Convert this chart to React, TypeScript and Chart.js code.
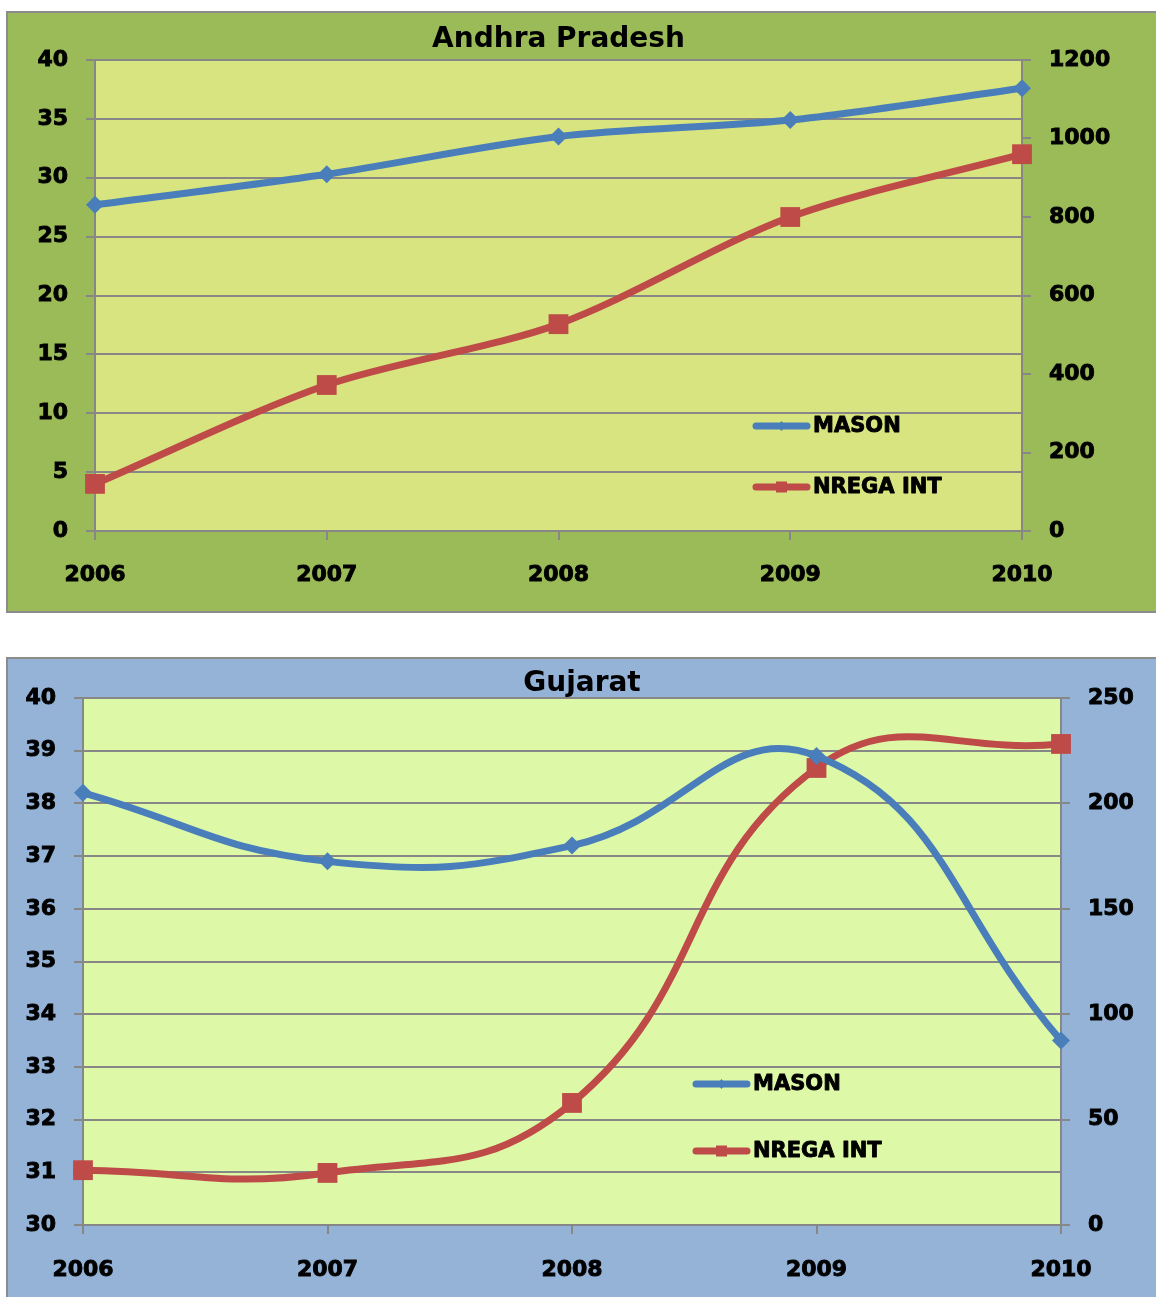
import React, { useEffect, useRef } from 'react';
import { Chart, registerables } from 'chart.js';

Chart.register(...registerables);

// ---------- data ----------
const YEARS = ['2006', '2007', '2008', '2009', '2010'];

const AP_MASON = [27.7, 30.3, 33.5, 34.9, 37.6];
const AP_NREGA = [120, 372, 527, 800, 960];

const GJ_MASON = [38.2, 36.9, 37.2, 38.9, 33.5];
const GJ_NREGA = [26, 24.7, 57.9, 216.8, 228.2];

const SERIES_NAMES = ['MASON', 'NREGA INT'];

// ---------- styles ----------
const FONT = '"DejaVu Sans", "Liberation Sans", sans-serif';
const BLUE = '#4A7EBB';
const RED = '#BE4B48';
const GRID = '#878787';

const plotBg = {
  id: 'plotBg',
  beforeDraw(chart: any, _a: any, opts: any) {
    const { ctx, chartArea } = chart;
    if (!chartArea) return;
    ctx.save();
    ctx.fillStyle = opts.color;
    ctx.fillRect(chartArea.left, chartArea.top, chartArea.right - chartArea.left, chartArea.bottom - chartArea.top);
    ctx.restore();
  },
};

const insideLegend = {
  id: 'insideLegend',
  afterDatasetsDraw(chart: any, _a: any, opts: any) {
    const { ctx } = chart;
    ctx.save();
    chart.data.datasets.forEach((ds: any, i: number) => {
      const x0 = opts.x;
      const x1 = opts.x + opts.sampleWidth;
      const y = opts.y + i * opts.gap;
      ctx.strokeStyle = ds.borderColor;
      ctx.lineWidth = 7;
      ctx.lineCap = 'round';
      ctx.beginPath();
      ctx.moveTo(x0 + 3, y);
      ctx.lineTo(x1 - 3, y);
      ctx.stroke();
      const cx = (x0 + x1) / 2;
      ctx.fillStyle = ds.borderColor;
      ctx.beginPath();
      if (ds.pointStyle === 'rect') {
        ctx.rect(cx - 5.5, y - 5.5, 11, 11);
      } else {
        ctx.moveTo(cx, y - 5);
        ctx.lineTo(cx + 4, y);
        ctx.lineTo(cx, y + 5);
        ctx.lineTo(cx - 4, y);
        ctx.closePath();
      }
      ctx.fill();
      ctx.fillStyle = '#000';
      ctx.strokeStyle = '#000';
      ctx.lineWidth = 0.9;
      ctx.lineCap = 'butt';
      ctx.lineJoin = 'round';
      ctx.font = `bold 21px ${FONT}`;
      ctx.textBaseline = 'middle';
      ctx.textAlign = 'left';
      ctx.fillText(ds.label, x1 + 3, y + 1);
      ctx.strokeText(ds.label, x1 + 3, y + 1);
    });
    ctx.restore();
  },
};

type PanelProps = {
  title: string;
  titleFull: boolean;
  titlePad: { top: number; bottom: number };
  mason: number[];
  nrega: number[];
  left: { min: number; max: number; step: number };
  right: { min: number; max: number; step: number };
  leftWidth: number;
  rightWidth: number;
  xHeight: number;
  xPad: number;
  tension: number;
  plotColor: string;
  legend: { x: number; y: number; gap: number };
  width: number;
  height: number;
};

function Panel(p: PanelProps) {
  const ref = useRef<HTMLCanvasElement | null>(null);
  useEffect(() => {
    if (!ref.current) return;
    const tickFont = { family: FONT, size: 22, weight: 'bold' as const };
    const plain = (v: any) => String(v);
    const chart = new Chart(ref.current, {
      type: 'line',
      data: {
        labels: YEARS,
        datasets: [
          {
            label: SERIES_NAMES[0],
            data: p.mason,
            yAxisID: 'y',
            borderColor: BLUE,
            backgroundColor: BLUE,
            borderWidth: 7,
            pointStyle: 'rectRot',
            pointRadius: 9,
            pointBorderWidth: 0,
            tension: p.tension,
            clip: false as any,
            fill: false,
          },
          {
            label: SERIES_NAMES[1],
            data: p.nrega,
            yAxisID: 'y1',
            borderColor: RED,
            backgroundColor: RED,
            borderWidth: 7,
            pointStyle: 'rect',
            pointRadius: 14,
            pointBorderWidth: 0,
            tension: p.tension,
            clip: false as any,
            fill: false,
          },
        ],
      },
      options: {
        responsive: false,
        animation: false,
        layout: { padding: 0 },
        plugins: {
          legend: { display: false },
          tooltip: { enabled: false },
          title: {
            display: true,
            text: p.title,
            fullSize: p.titleFull,
            color: '#000',
            font: { family: FONT, size: 28, weight: 'bold', lineHeight: 1 },
            padding: p.titlePad,
          },
          plotBg: { color: p.plotColor },
          insideLegend: { x: p.legend.x, y: p.legend.y, gap: p.legend.gap, sampleWidth: 57 },
        } as any,
        scales: {
          x: {
            type: 'category',
            offset: false,
            grid: { display: true, drawOnChartArea: false, drawTicks: true, tickLength: 9, color: GRID, lineWidth: 2 },
            border: { display: true, color: GRID, width: 2 },
            ticks: { color: '#000', font: tickFont, padding: p.xPad, maxRotation: 0, autoSkip: false, textStrokeColor: '#000', textStrokeWidth: 0.9 },
            afterFit(s: any) { s.height = p.xHeight; },
          },
          y: {
            position: 'left',
            min: p.left.min,
            max: p.left.max,
            ticks: { stepSize: p.left.step, color: '#000', font: tickFont, padding: 18, callback: plain, textStrokeColor: '#000', textStrokeWidth: 0.9 },
            grid: { color: GRID, lineWidth: 2, tickLength: 9 },
            border: { display: true, color: GRID, width: 2 },
            afterFit(s: any) { s.width = p.leftWidth; },
          },
          y1: {
            position: 'right',
            min: p.right.min,
            max: p.right.max,
            ticks: { stepSize: p.right.step, color: '#000', font: tickFont, padding: 18, callback: plain, textStrokeColor: '#000', textStrokeWidth: 0.9 },
            grid: { drawOnChartArea: false, color: GRID, lineWidth: 2, tickLength: 9 },
            border: { display: true, color: GRID, width: 2 },
            afterFit(s: any) { s.width = p.rightWidth; },
          },
        },
      },
      plugins: [plotBg, insideLegend],
    });
    return () => chart.destroy();
  }, []);
  return <canvas ref={ref} width={p.width} height={p.height} style={{ display: 'block' }} />;
}

export default function App() {
  return (
    <div style={{ position: 'absolute', left: 0, top: 0, width: 1156, height: 1297, overflow: 'hidden', background: '#fff' }}>
      <div style={{ position: 'absolute', left: 6, top: 11, width: 1152, height: 602, boxSizing: 'border-box', border: '2px solid #8c8c8c', background: '#9BBB59' }}>
        <Panel
          title="Andhra Pradesh"
          titleFull={false}
          titlePad={{ top: 13, bottom: 6 }}
          mason={AP_MASON}
          nrega={AP_NREGA}
          left={{ min: 0, max: 40, step: 5 }}
          right={{ min: 0, max: 1200, step: 200 }}
          leftWidth={87}
          rightWidth={134}
          xHeight={80}
          xPad={22}
          tension={0.3}
          plotColor="#D7E47F"
          legend={{ x: 745, y: 413, gap: 61 }}
          width={1148}
          height={598}
        />
      </div>
      <div style={{ position: 'absolute', left: 6, top: 657, width: 1152, height: 644, boxSizing: 'border-box', border: '2px solid #8c8c8c', background: '#95B3D7' }}>
        <Panel
          title="Gujarat"
          titleFull={true}
          titlePad={{ top: 11, bottom: 0 }}
          mason={GJ_MASON}
          nrega={GJ_NREGA}
          left={{ min: 30, max: 40, step: 1 }}
          right={{ min: 0, max: 250, step: 50 }}
          leftWidth={75}
          rightWidth={95}
          xHeight={74}
          xPad={23}
          tension={0.45}
          plotColor="#DDF9A7"
          legend={{ x: 685, y: 425, gap: 67 }}
          width={1148}
          height={640}
        />
      </div>
    </div>
  );
}
